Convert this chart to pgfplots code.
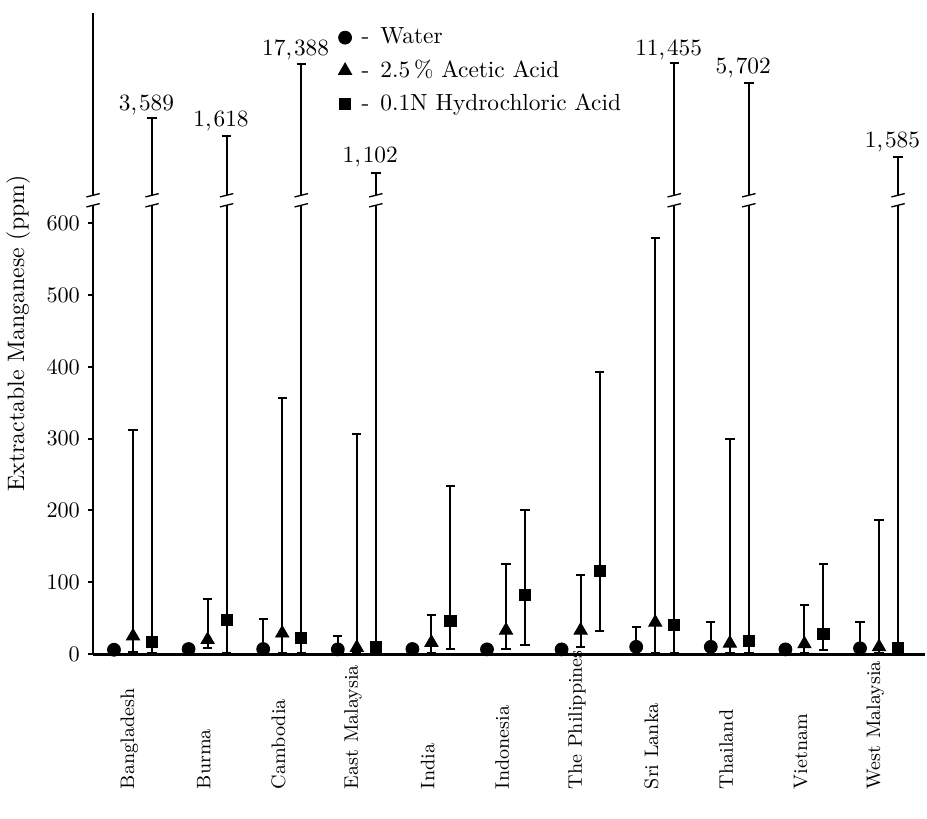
\documentclass[border=0pt]{standalone}
\usepackage{pgfplots}
\usepackage{pgfplotstable}
\pgfplotsset{compat=1.18}

\pgfdeclareplotmark{brk}{%
  \pgfpathrectangle{\pgfpoint{-3.5pt}{-2.3pt}}{\pgfpoint{7pt}{4.6pt}}%
  \pgfusepathqfill
  \pgfpathmoveto{\pgfpoint{-3pt}{-3pt}}\pgfpathlineto{\pgfpoint{3pt}{-1.5pt}}%
  \pgfpathmoveto{\pgfpoint{-3pt}{1.5pt}}\pgfpathlineto{\pgfpoint{3pt}{3pt}}%
  \pgfusepathqstroke
}

% x = country index + offset, y = value, ep/em = error plus/minus
\pgfplotstableread{
x      y     ep     em
-0.255 6     0      0
0.745  7     0      0
1.745  7     42     0
2.745  6.5   18.5   0
3.745  7     0      0
4.745  6.5   0      0
5.745  6.5   0      0
6.745  10    27     0
7.745  10    34     0
8.745  6.5   0      0
9.745  8     36     0
}\water
\pgfplotstableread{
x   y    ep    em
0   25   287   22
1   20   56    12
2   29   327   27
3   9    297   8
4   16   39    14
5   33   92    26
6   33   77    23
7   44   535   43
8   15   284   14
9   14   54    13
10  10   177   9
}\acetic
% tops of broken bars drawn at their break-scale positions
\pgfplotstableread{
x      y     ep      em
0.255  17    729.5   15
1.255  47    674.4   45
2.255  23    798.7   21
3.255  10    659.9   9
4.255  46    188     39.5
5.255  82    119     70
6.255  116   277     84
7.255  40    783.1   39
8.255  18.5  776.8   17.5
9.255  28    98      22.5
10.255 8     684.2   7
}\hcl
\pgfplotstableread{
x      y
-0.536 632
0.255  632
1.255  632
2.255  632
3.255  632
7.255  632
8.255  632
10.255 632
}\breaks

\newcommand{\vl}{\fontsize{10.5}{12.5}\selectfont}
\newcommand{\cm}{,\kern0.9pt}

\begin{document}
\begin{tikzpicture}
\begin{axis}[
  x=33.57pt, y=0.3231pt,
  xmin=-0.536, xmax=10.617,
  ymin=0, ymax=893,
  enlargelimits=false,
  clip=false,
  axis lines=left,
  axis line style={line width=1.3pt,-},
  xtick=\empty,
  ytick={0,100,...,600},
  tick align=outside,
  major tick length=2.4pt,
  tick style={line width=0.9pt,black},
  yticklabel style={font=\fontsize{10}{12}\selectfont},
  ylabel={Extractable Manganese (ppm)},
  ylabel style={at={(axis description cs:-0.09,0.5)},anchor=center,font=\fontsize{10.7}{12.5}\selectfont},
  legend style={draw=none,fill=none,at={(axis description cs:0.291,0.984)},anchor=north west,
    font=\vl,row sep=1.8pt,inner sep=0pt},
  legend cell align=left,
  legend image code/.code={\draw[#1] plot coordinates {(0.15cm,0cm)}; \path[draw=none,fill=none] (0cm,0cm) -- (0.34cm,0cm);},
  error bars/error bar style={line width=0.9pt,black},
  error bars/error mark options={rotate=90,line width=0.9pt,black,mark size=2.1pt},
]
\addlegendimage{only marks,mark=*,mark size=2.9pt,black}
\addlegendentry{-\hspace{5pt}Water}
\addlegendimage{only marks,mark=triangle*,mark size=3.4pt,black}
\addlegendentry{-\hspace{5pt}2.5\,\% Acetic Acid}
\addlegendimage{only marks,mark=square*,mark size=2.5pt,black}
\addlegendentry{-\hspace{5pt}0.1N Hydrochloric Acid}

\addplot[only marks,mark=*,mark size=2.9pt,black,forget plot,
  error bars/.cd,y dir=both,y explicit]
  table[x=x,y=y,y error plus=ep,y error minus=em]{\water};
\addplot[only marks,mark=triangle*,mark size=3.4pt,black,forget plot,
  error bars/.cd,y dir=both,y explicit]
  table[x=x,y=y,y error plus=ep,y error minus=em]{\acetic};
\addplot[only marks,mark=square*,mark size=2.5pt,black,forget plot,
  error bars/.cd,y dir=both,y explicit]
  table[x=x,y=y,y error plus=ep,y error minus=em]{\hcl};
\addplot[only marks,mark=brk,forget plot,mark options={fill=white,draw=black,line width=0.6pt}]
  table[x=x,y=y]{\breaks};

% values of the broken bars
\node[anchor=base,font=\vl] at (axis cs:0.18,757) {3\cm589};
\node[anchor=base,font=\vl] at (axis cs:1.18,735) {1\cm618};
\node[anchor=base,font=\vl] at (axis cs:2.18,833) {17\cm388};
\node[anchor=base,font=\vl] at (axis cs:3.18,684) {1\cm102};
\node[anchor=base,font=\vl] at (axis cs:7.18,834) {11\cm455};
\node[anchor=base,font=\vl] at (axis cs:8.18,808) {5\cm702};
\node[anchor=base,font=\vl] at (axis cs:10.18,706) {1\cm585};

% country labels
\node[rotate=90,anchor=west,font=\fontsize{8.8}{11}\selectfont] at (axis cs:-0.05,-199) {Bangladesh};
\node[rotate=90,anchor=west,font=\fontsize{8.8}{11}\selectfont] at (axis cs:0.95,-199) {Burma};
\node[rotate=90,anchor=west,font=\fontsize{8.8}{11}\selectfont] at (axis cs:1.95,-199) {Cambodia};
\node[rotate=90,anchor=west,font=\fontsize{8.8}{11}\selectfont] at (axis cs:2.95,-199) {East Malaysia};
\node[rotate=90,anchor=west,font=\fontsize{8.8}{11}\selectfont] at (axis cs:3.95,-199) {India};
\node[rotate=90,anchor=west,font=\fontsize{8.8}{11}\selectfont] at (axis cs:4.95,-199) {Indonesia};
\node[rotate=90,anchor=west,font=\fontsize{8.8}{11}\selectfont] at (axis cs:5.95,-199) {The Philippines};
\node[rotate=90,anchor=west,font=\fontsize{8.8}{11}\selectfont] at (axis cs:6.95,-199) {Sri Lanka};
\node[rotate=90,anchor=west,font=\fontsize{8.8}{11}\selectfont] at (axis cs:7.95,-199) {Thailand};
\node[rotate=90,anchor=west,font=\fontsize{8.8}{11}\selectfont] at (axis cs:8.95,-199) {Vietnam};
\node[rotate=90,anchor=west,font=\fontsize{8.8}{11}\selectfont] at (axis cs:9.95,-199) {West Malaysia};

\coordinate (bbl) at (axis cs:-1.783,-228.4);
\coordinate (btr) at (axis cs:10.643,910.9);
\end{axis}
\pgfresetboundingbox
\path[use as bounding box] (bbl) rectangle (btr);
\end{tikzpicture}
\end{document}
